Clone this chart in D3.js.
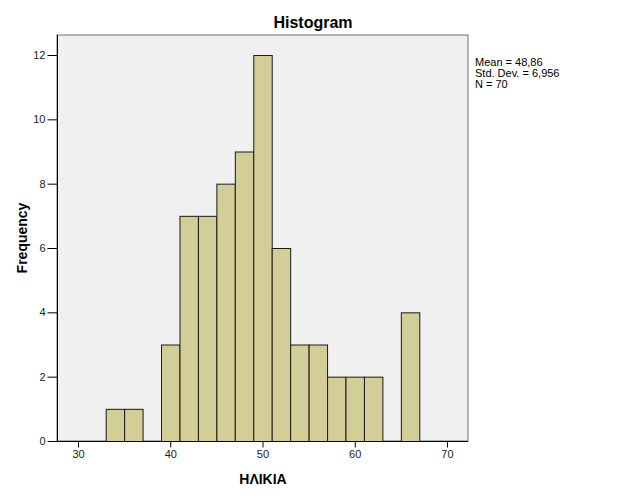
<!DOCTYPE html>
<html><head><meta charset="utf-8">
<script src="https://cdn.jsdelivr.net/npm/d3@7"></script>
<style>body{margin:0;background:#fff;} text{font-family:"Liberation Sans",Arial,sans-serif;}</style>
</head><body>
<svg id="c" width="626" height="501"></svg>
<script>
const binStarts = [33,35,39,41,43,45,47,49,51,53,55,57,59,61,65];
const binWidth = 2;
const counts = [1,1,3,7,7,8,9,12,6,3,3,2,2,2,4];
const xTicks = [30,40,50,60,70];
const yTicks = [0,2,4,6,8,10,12];
const stats = ["Mean = 48,86","Std. Dev. = 6,956","N = 70"];

const svg = d3.select("#c");
const L=57, R=468, T=35, B=441;
const x = d3.scaleLinear().domain([27.72,72.39]).range([L,R+1]);
const y = d3.scaleLinear().domain([0,12]).range([B,55]);

svg.append("rect").attr("x",L).attr("y",T).attr("width",R-L).attr("height",B-T)
  .attr("fill","#f0f0f0").attr("stroke","#707070").attr("stroke-width",1);

svg.append("g").selectAll("rect").data(binStarts).join("rect")
  .attr("x",(d)=>x(d)+0.5).attr("y",(d,i)=>y(counts[i])+0.5)
  .attr("width",(d)=>x(d+binWidth)-x(d)).attr("height",(d,i)=>B-y(counts[i]))
  .attr("fill","#d3ce98").attr("stroke","#1a1a1a").attr("stroke-width",1);

const ya = svg.append("g").attr("transform",`translate(${L+0.5},0)`)
  .call(d3.axisLeft(y).tickValues(yTicks).tickSize(10).tickPadding(2).tickSizeOuter(0));
ya.select(".domain").attr("stroke","#000").attr("d",`M0,${T}V${B}`);
ya.selectAll("text").attr("font-size",11).attr("fill","#222");
ya.selectAll(".tick line").attr("stroke","#000");

const xa = svg.append("g").attr("transform",`translate(0,${B+0.5})`)
  .call(d3.axisBottom(x).tickValues(xTicks).tickSize(6).tickPadding(3).tickSizeOuter(0));
xa.select(".domain").attr("stroke","#000").attr("d",`M${L},0H${R}`);
xa.selectAll("text").attr("font-size",11).attr("fill","#222");
xa.selectAll(".tick line").attr("stroke","#000");

svg.append("text").attr("x",313).attr("y",28).attr("text-anchor","middle")
  .attr("font-size",16).attr("font-weight","bold").text("Histogram");
svg.append("text").attr("transform","translate(27,238) rotate(-90)").attr("text-anchor","middle")
  .attr("font-size",14).attr("font-weight","bold").text("Frequency");
svg.append("text").attr("x",263).attr("y",484).attr("text-anchor","middle")
  .attr("font-size",14).attr("font-weight","bold").text("ΗΛΙΚΙΑ");
svg.append("g").selectAll("text").data(stats).join("text")
  .attr("x",475).attr("y",(d,i)=>66+i*11).attr("font-size",11).attr("fill","#000").text(d=>d);
</script>
</body></html>
